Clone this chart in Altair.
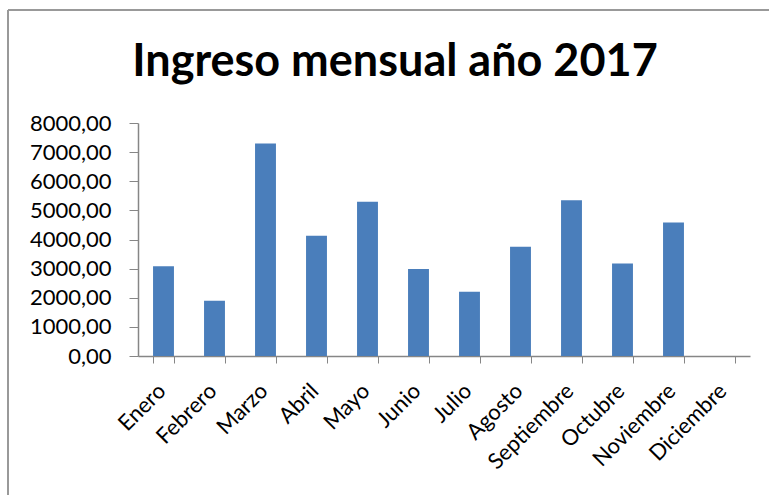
import altair as alt
import pandas as pd

meses = ["Enero", "Febrero", "Marzo", "Abril", "Mayo", "Junio", "Julio",
         "Agosto", "Septiembre", "Octubre", "Noviembre", "Diciembre"]
ingresos = [3080, 1900, 7300, 4130, 5300, 2990, 2210, 3750, 5350, 3180, 4580, 0]

df = pd.DataFrame({"mes": meses, "ingreso": ingresos})

FONT = "Lato"
GRAY = "#868686"

bars = alt.Chart(df).mark_bar(color="#4A7EBB", clip=False).encode(
    x=alt.X("mes:N", sort=meses, title=None,
            scale=alt.Scale(paddingInner=0.59, paddingOuter=0.295),
            axis=alt.Axis(labelAngle=-45, labelFontSize=22, labelFont=FONT,
                          labelColor="#000000", tickBand="extent",
                          tickSize=7, tickColor=GRAY, domainColor=GRAY,
                          domainWidth=1.5, labelPadding=17, labelOffset=-9)),
    y=alt.Y("ingreso:Q", title=None,
            scale=alt.Scale(domain=[0, 8000]),
            axis=alt.Axis(values=list(range(0, 8001, 1000)), grid=False,
                          labelExpr="replace(format(datum.value, '.2f'), '.', ',')",
                          labelFontSize=22, labelFont=FONT, labelColor="#000000",
                          tickSize=9, tickColor=GRAY, domainColor=GRAY,
                          domainWidth=1.5, labelPadding=18)),
)

frame_left = alt.Chart(df).mark_rule(color="#999999", strokeWidth=2, clip=False).encode(
    x=alt.value(-130), y=alt.value(-113), y2=alt.value(400))
frame_top = alt.Chart(df).mark_rule(color="#999999", strokeWidth=2, clip=False).encode(
    x=alt.value(-130), x2=alt.value(700), y=alt.value(-113))

chart = alt.layer(frame_left, frame_top, bars).properties(
    width=612, height=233,
    background="#ffffff",
    title=alt.TitleParams("Ingreso mensual año 2017", font=FONT, fontSize=45,
                          fontWeight="bold", color="#000000", anchor="middle",
                          baseline="alphabetic", dx=-49, dy=46, offset=-66),
    autosize=alt.AutoSizeParams(type="none"),
    padding={"left": 138, "top": 123, "right": 19, "bottom": 139},
).configure_view(stroke="transparent", strokeWidth=0)

chart.save("out.html", embed_options={"renderer": "svg", "actions": False})
